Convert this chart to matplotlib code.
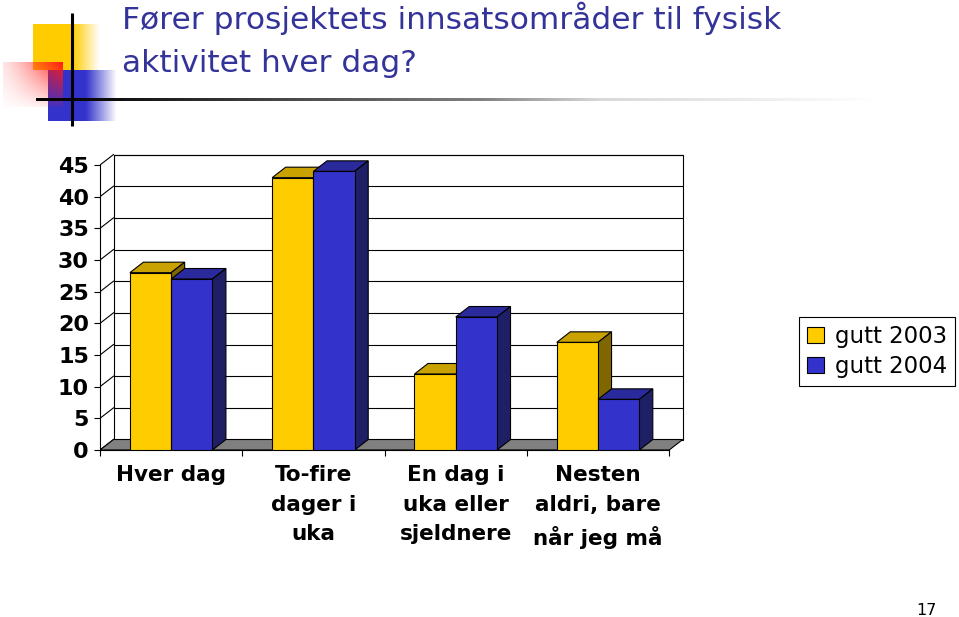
import numpy as np
import matplotlib
matplotlib.use('Agg')
import matplotlib.pyplot as plt
from matplotlib.patches import Polygon, Rectangle

# data
categories = ["Hver dag", "To-fire\ndager i\nuka", "En dag i\nuka eller\nsjeldnere",
              "Nesten\naldri, bare\nnår jeg må"]
gutt_2003 = [28, 43, 12, 17]
gutt_2004 = [27, 44, 21, 8]
series_labels = ["gutt 2003", "gutt 2004"]
y_ticks = list(range(0, 50, 5))
title_lines = ["Fører prosjektets innsatsområder til fysisk", "aktivitet hver dag?"]
page_number = "17"

W, H = 959, 617
fig = plt.figure(figsize=(W / 100, H / 100), dpi=100)
fig.patch.set_facecolor('white')

# ---- slide decoration (top-left logo and rule) in pixel coordinates ----
deco = fig.add_axes([0, 0, 1, 1])
deco.axis('off')


def grad_rect(x0, x1, y0, y1, rgb, alpha, z):
    img = np.zeros(alpha.shape + (4,))
    img[..., :3] = rgb
    img[..., 3] = np.clip(alpha, 0, 1)
    deco.imshow(img, extent=(x0, x1, y1, y0), interpolation='bilinear',
                aspect='auto', zorder=z)


xs = np.linspace(33, 100, 120)
grad_rect(33, 100, 24, 70, (1.0, 0.8, 0.0),
          np.tile(np.interp(xs, [33, 73, 100], [1, 1, 0]), (10, 1)), 1)
xs = np.linspace(48, 117, 120)
grad_rect(48, 117, 70, 121, (0.2, 0.2, 0.8),
          np.tile(np.interp(xs, [48, 86, 117], [1, 1, 0]), (10, 1)), 2)
u = np.linspace(0, 1, 80)[None, :]
v = np.linspace(0, 1, 60)[:, None]
grad_rect(3, 63, 62, 107, (1.0, 0.1, 0.1), (0.12 + 0.88 * u ** 1.3) * (1 - 0.9 * v), 3)

xs = np.linspace(36, 900, 400)
gray = np.interp(xs, [36, 110, 300, 480, 600, 700, 880, 900], [0, 0.05, 0.3, 0.5, 0.85, 0.9, 1, 1])
line_img = np.repeat(np.stack([gray, gray, gray], axis=-1)[None, :, :], 3, axis=0)
deco.imshow(line_img, extent=(36, 900, 101, 98), interpolation='bilinear', aspect='auto', zorder=4)
deco.plot([72, 72], [13, 126], color='black', lw=2.2, solid_capstyle='butt', zorder=5)
deco.set_xlim(0, W)
deco.set_ylim(H, 0)

# title
fig.text(122 / W, 1 - 29 / H, title_lines[0], fontsize=22.5, color='#333399', va='baseline')
fig.text(122 / W, 1 - 72 / H, title_lines[1], fontsize=22.5, color='#333399', va='baseline')
fig.text(937 / W, 1 - 615 / H, page_number, fontsize=11.5, ha='right', va='baseline')

# ---- 3D-look bar chart ----
X0_PX, Y0_PX = 100, 450
PX_CAT, PX_VAL = 142.3, 6.333
AX_W_PX, AX_H_PX = 600, 310
ax = fig.add_axes([X0_PX / W, (H - Y0_PX) / H, AX_W_PX / W, AX_H_PX / H])
ax.set_xlim(0, AX_W_PX / PX_CAT)
ax.set_ylim(0, AX_H_PX / PX_VAL)
ax.patch.set_visible(False)

DX = 13.5 / PX_CAT
DY = 10.5 / PX_VAL
n = len(categories)
ymax = y_ticks[-1]

# back wall, grid and floor
ax.add_patch(Rectangle((DX, DY), n, ymax, fc='white', ec='black', lw=0.8, zorder=1))
ax.hlines([t + DY for t in y_ticks[1:]], DX, n + DX, color='black', lw=0.8, zorder=1)
for t in y_ticks:
    ax.plot([0, DX], [t, t + DY], color='black', lw=0.8, zorder=1)
ax.add_patch(Polygon([(0, 0), (n, 0), (n + DX, DY), (DX, DY)], fc='#808080', ec='black',
                     lw=0.8, zorder=2))

bw = 0.29
centers = np.arange(n) + 0.5
styles = [("#FFCC00", "#C9A200", "#7F6600"), ("#3333CC", "#2A2A9C", "#1F1F66")]
handles = []
for k, (vals, lab, (front, top, side)) in enumerate(zip([gutt_2003, gutt_2004], series_labels, styles)):
    bars = ax.bar(centers - bw + k * bw, vals, width=bw, align='edge', color=front,
                  edgecolor='black', linewidth=0.8, label=lab, zorder=5 + 2 * k)
    handles.append(bars)
    for b in bars:
        x0, x1, h = b.get_x(), b.get_x() + b.get_width(), b.get_height()
        ax.add_patch(Polygon([(x0, h), (x1, h), (x1 + DX, h + DY), (x0 + DX, h + DY)],
                             fc=top, ec='black', lw=0.8, zorder=4 + 2 * k))
        ax.add_patch(Polygon([(x1, 0), (x1 + DX, DY), (x1 + DX, h + DY), (x1, h)],
                             fc=side, ec='black', lw=0.8, zorder=4 + 2 * k))

for s in ['top', 'right']:
    ax.spines[s].set_visible(False)
ax.spines['left'].set_bounds(0, ymax)
ax.spines['bottom'].set_bounds(0, n)
ax.spines['left'].set_linewidth(0.8)
ax.spines['bottom'].set_linewidth(0.8)
ax.spines['bottom'].set_zorder(3)

ax.set_yticks(y_ticks)
ax.tick_params(axis='y', direction='out', length=4, width=0.8, pad=4, labelsize=16)
for lbl in ax.get_yticklabels():
    lbl.set_fontweight('bold')

ax.set_xticks(np.arange(n + 1))
ax.set_xticklabels([])
ax.tick_params(axis='x', which='major', direction='out', length=4, width=0.8)
ax.set_xticks(centers, minor=True)
ax.set_xticklabels(categories, minor=True, fontsize=15.5, fontweight='bold', linespacing=1.6)
ax.tick_params(axis='x', which='minor', length=0, pad=11)

leg = fig.legend(handles=handles, labels=series_labels, loc='upper left',
                 bbox_to_anchor=(799 / W, 1 - 317 / H), fontsize=16.5, frameon=True,
                 fancybox=False, framealpha=1, edgecolor='black', borderaxespad=0,
                 handlelength=0.75, handleheight=0.75, handletextpad=0.45,
                 labelspacing=0.3, borderpad=0.35)
leg.get_frame().set_linewidth(0.8)

fig.savefig('out.png', dpi=100, facecolor='white')
